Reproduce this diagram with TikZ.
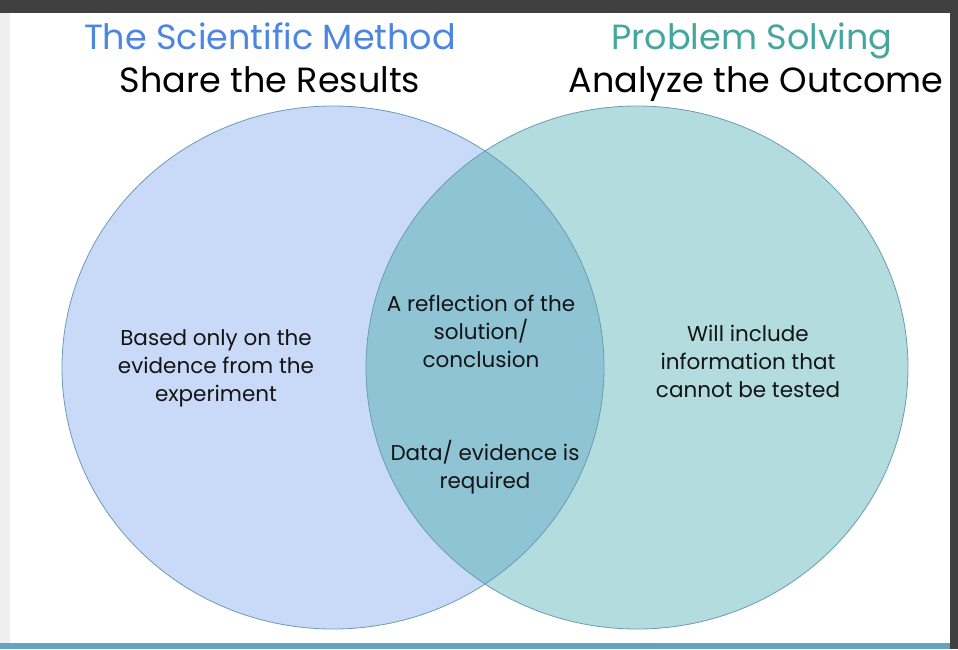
\documentclass[tikz,border=0pt]{standalone}
\usepackage{fontspec}
\setmainfont{Poppins}
\definecolor{frame}{RGB}{64,64,64}
\definecolor{strip}{RGB}{239,239,239}
\definecolor{barblue}{RGB}{104,160,192}
\definecolor{leftfill}{RGB}{201,218,248}
\definecolor{rightfill}{RGB}{178,220,222}
\definecolor{midfill}{RGB}{143,196,213}
\definecolor{edge}{RGB}{106,156,180}
\definecolor{titleblue}{RGB}{77,134,224}
\definecolor{titleteal}{RGB}{69,166,158}
\definecolor{ink}{RGB}{20,20,20}
\tikzset{
  title/.style={anchor=base, inner sep=0pt, font=\fontsize{35}{40}\selectfont},
  body/.style={anchor=base, inner sep=0pt, align=center, text=ink, font=\fontsize{21.5}{28}\selectfont},
}
\begin{document}
\begin{tikzpicture}[x=1pt,y=-1pt]
\useasboundingbox (0,0) rectangle (958,649);
\fill[white] (0,0) rectangle (958,649);
\fill[strip] (0,0) rectangle (10,643);
\fill[frame] (0,0) rectangle (958,13);
\fill[frame] (950,0) rectangle (958,649);
\fill[barblue] (0,643) rectangle (950,649);
% Venn
\fill[leftfill] (333,367.5) ellipse [x radius=271, y radius=261.5];
\fill[rightfill] (637,367.5) ellipse [x radius=271, y radius=261.5];
\begin{scope}
  \clip (333,367.5) ellipse [x radius=271, y radius=261.5];
  \fill[midfill] (637,367.5) ellipse [x radius=271, y radius=261.5];
\end{scope}
\draw[edge, line width=0.8pt] (333,367.5) ellipse [x radius=271, y radius=261.5];
\draw[edge, line width=0.8pt] (637,367.5) ellipse [x radius=271, y radius=261.5];
% titles
\node[title, text=titleblue] (t1) at (270,49) {The Scientific Method};
\node[title, text=black] (s1) at (270,92) {Share the Results};
\node[title, text=titleteal] (t2) at (752,49) {Problem Solving};
\node[title, text=black] (s2) at (756,92) {Analyze the Outcome};
% body (base anchor = baseline of the last line)
\node[body] (l) at (216,401) {Based only on the\\evidence from the\\experiment};
\node[body] (m1) at (481,367) {A reflection of the\\solution/\\conclusion};
\node[body] (m2) at (485,488) {Data/ evidence is\\required};
\node[body] (r) at (748,397) {Will include\\information that\\cannot be tested};
\end{tikzpicture}
\end{document}
